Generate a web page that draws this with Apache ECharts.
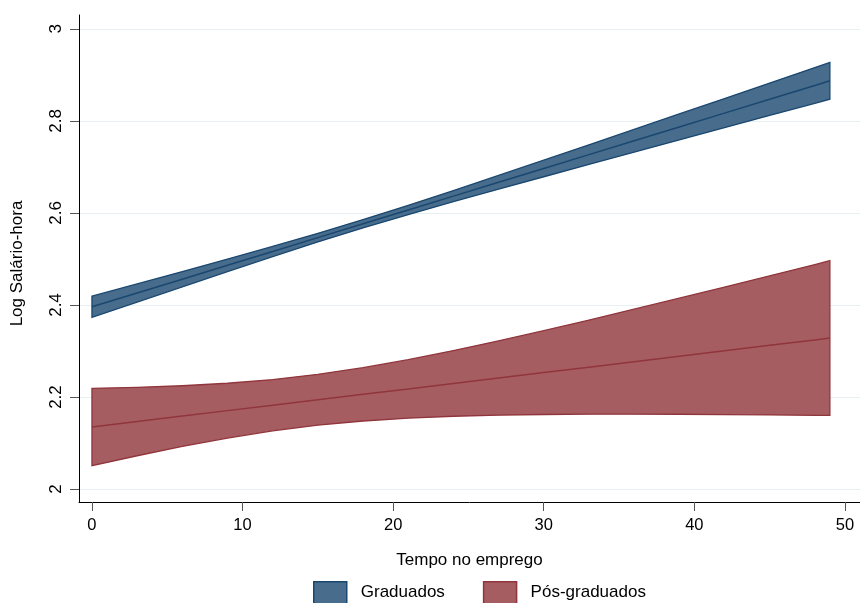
<!DOCTYPE html>
<html><head><meta charset="utf-8">
<script src="https://cdn.jsdelivr.net/npm/echarts@6/dist/echarts.min.js"></script>
<style>html,body{margin:0;padding:0;background:#fff}#c{width:860px;height:603px}</style>
</head><body><div id="c"></div>
<script>
const tempo = [0,3,6,9,12,15,18,21,24,27,30,33,36,39,42,45,48,49];

const gradMean = [2.3960,2.4261,2.4561,2.4862,2.5162,2.5463,2.5764,2.6064,2.6365,2.6665,2.6966,2.7267,2.7567,2.7868,2.8168,2.8469,2.8770,2.8870];
const gradLow  = [2.3730,2.4064,2.4396,2.4727,2.5051,2.5369,2.5674,2.5963,2.6243,2.6515,2.6786,2.7054,2.7320,2.7586,2.7851,2.8117,2.8382,2.8470];
const gradHigh = [2.4190,2.4458,2.4726,2.4997,2.5273,2.5557,2.5855,2.6165,2.6487,2.6815,2.7147,2.7480,2.7814,2.8150,2.8485,2.8821,2.9158,2.9270];

const posMean = [2.1350,2.1468,2.1586,2.1705,2.1823,2.1941,2.2059,2.2177,2.2296,2.2414,2.2532,2.2650,2.2768,2.2887,2.3005,2.3123,2.3241,2.3281];
const posLow  = [2.0510,2.0725,2.0927,2.1110,2.1266,2.1389,2.1480,2.1542,2.1583,2.1607,2.1621,2.1627,2.1628,2.1626,2.1620,2.1612,2.1603,2.1600];
const posHigh = [2.2190,2.2211,2.2245,2.2300,2.2380,2.2493,2.2638,2.2812,2.3009,2.3221,2.3443,2.3673,2.3908,2.4148,2.4390,2.4634,2.4879,2.4962];

const xTicks = [0,10,20,30,40,50];
const yTicks = [2,2.2,2.4,2.6,2.8,3];
const yTickLabels = ['2','2.2','2.4','2.6','2.8','3'];

const FONT = 'Liberation Sans, Arial, sans-serif';
const NAVY = '#1a476f', NAVY_FILL = '#486c8c';
const MAROON = '#90353b', MAROON_FILL = '#a65d62';

function band(low, high, fill, stroke) {
  return function (params, api) {
    const pts = [];
    for (let i = 0; i < tempo.length; i++) pts.push(api.coord([tempo[i], high[i]]));
    for (let i = tempo.length - 1; i >= 0; i--) pts.push(api.coord([tempo[i], low[i]]));
    return { type: 'polygon', shape: { points: pts }, style: { fill: fill, stroke: stroke, lineWidth: 1.3 } };
  };
}

const chart = echarts.init(document.getElementById('c'), null, { renderer: 'canvas' });
chart.setOption({
  animation: false,
  backgroundColor: '#fff',
  textStyle: { fontFamily: FONT },
  grid: { left: 79, right: 0, top: 15, bottom: 101 },
  legend: {
    left: 308, top: 576,
    itemWidth: 33, itemHeight: 22, itemGap: 38,
    selectedMode: false,
    textStyle: { fontSize: 17, color: '#000', fontFamily: FONT, padding: [0, 0, 0, 9] },
    data: [
      { name: 'Graduados', icon: 'rect', itemStyle: { color: NAVY_FILL, borderColor: NAVY, borderWidth: 1.5 } },
      { name: 'Pós-graduados', icon: 'rect', itemStyle: { color: MAROON_FILL, borderColor: MAROON, borderWidth: 1.5 } }
    ]
  },
  xAxis: {
    type: 'value', min: -0.86, max: 51,
    name: 'Tempo no emprego', nameLocation: 'middle', nameGap: 50,
    nameTextStyle: { fontSize: 17, color: '#000', fontFamily: FONT },
    axisLine: { show: true, onZero: false, lineStyle: { color: '#000', width: 1 } },
    axisTick: { show: true, length: 9, customValues: xTicks, lineStyle: { color: '#555', width: 1 } },
    axisLabel: { customValues: xTicks, margin: 15, fontSize: 16.5, color: '#000', fontFamily: FONT },
    splitLine: { show: false }
  },
  yAxis: {
    type: 'value', min: 1.972, max: 3.03,
    name: 'Log Salário-hora', nameLocation: 'middle', nameGap: 53, nameRotate: 90,
    nameTextStyle: { fontSize: 17, color: '#000', fontFamily: FONT, padding: [0, 0, 0, -10] },
    axisLine: { show: true, onZero: false, lineStyle: { color: '#000', width: 1 } },
    axisTick: { show: true, length: 9, customValues: yTicks, lineStyle: { color: '#555', width: 1 } },
    axisLabel: {
      customValues: yTicks, rotate: 90, margin: 14, fontSize: 17, color: '#000', fontFamily: FONT,
      formatter: function (v) { const i = yTicks.indexOf(v); return i >= 0 ? yTickLabels[i] : String(v); }
    },
    splitLine: { show: false }
  },
  series: [
    {
      type: 'line', name: 'grid', data: [], z: 1, silent: true,
      markLine: {
        z: 0, silent: true, symbol: ['none', 'none'], animation: false,
        label: { show: false },
        lineStyle: { color: '#e6eff1', width: 1.2, type: 'solid' },
        data: yTicks.map(function (v) { return { yAxis: v }; })
      }
    },
    {
      type: 'custom', name: 'Graduados', z: 2,
      itemStyle: { color: NAVY_FILL, borderColor: NAVY },
      renderItem: band(gradLow, gradHigh, NAVY_FILL, NAVY),
      data: [[tempo[0], gradMean[0]]], encode: { x: 0, y: 1 }
    },
    {
      type: 'custom', name: 'Pós-graduados', z: 2,
      itemStyle: { color: MAROON_FILL, borderColor: MAROON },
      renderItem: band(posLow, posHigh, MAROON_FILL, MAROON),
      data: [[tempo[0], posMean[0]]], encode: { x: 0, y: 1 }
    },
    {
      type: 'line', name: 'Graduados média', z: 3, showSymbol: false, silent: true,
      lineStyle: { color: NAVY, width: 1.5 }, itemStyle: { color: NAVY },
      data: tempo.map(function (t, i) { return [t, gradMean[i]]; })
    },
    {
      type: 'line', name: 'Pós-graduados média', z: 3, showSymbol: false, silent: true,
      lineStyle: { color: MAROON, width: 1.5 }, itemStyle: { color: MAROON },
      data: tempo.map(function (t, i) { return [t, posMean[i]]; })
    }
  ]
});
</script>
</body></html>
